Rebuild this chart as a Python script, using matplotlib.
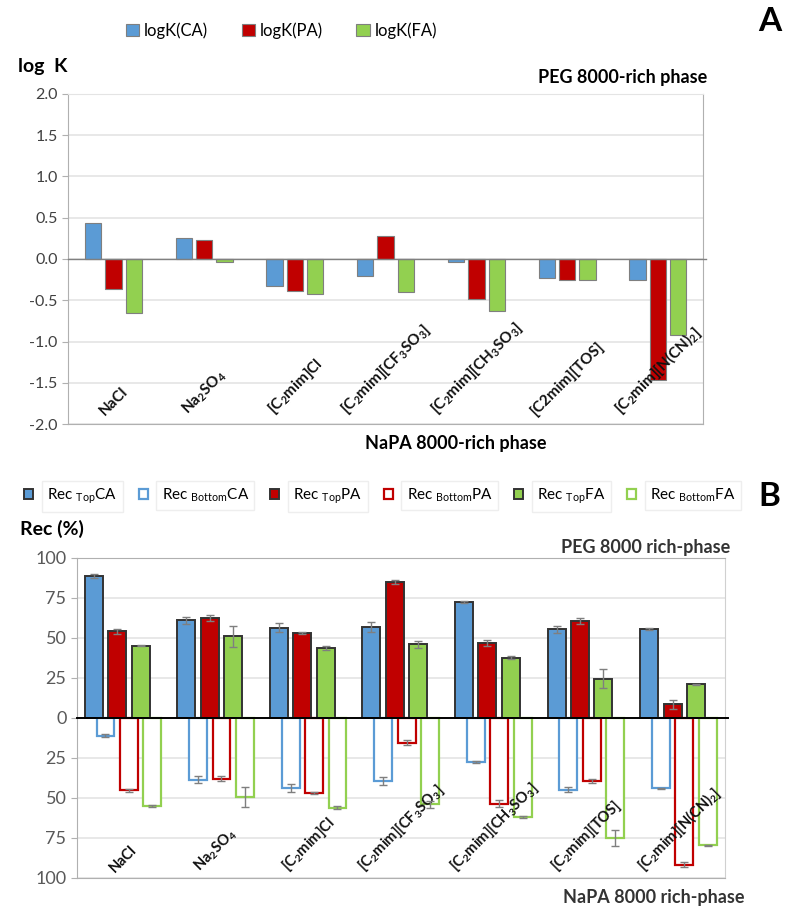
import matplotlib.pyplot as plt
import numpy as np

plt.rcParams['font.family'] = ['Lato', 'DejaVu Sans']
plt.rcParams['mathtext.fontset'] = 'custom'
plt.rcParams['mathtext.rm'] = 'Lato'
plt.rcParams['mathtext.bf'] = 'Lato:bold'

salts = ['NaCl', r'Na$_\mathbf{2}$SO$_\mathbf{4}$', r'[C$_\mathbf{2}$mim]Cl',
         r'[C$_\mathbf{2}$mim][CF$_\mathbf{3}$SO$_\mathbf{3}$]',
         r'[C$_\mathbf{2}$mim][CH$_\mathbf{3}$SO$_\mathbf{3}$]', '[C2mim][TOS]',
         r'[C$_\mathbf{2}$mim][N(CN)$_\mathbf{2}$]']
salts_b = salts[:5] + [r'[C$_\mathbf{2}$mim][TOS]', salts[6]]

# panel A: log K
logk_ca = [0.44, 0.25, -0.33, -0.21, -0.04, -0.23, -0.25]
logk_pa = [-0.36, 0.23, -0.39, 0.28, -0.48, -0.25, -1.47]
logk_fa = [-0.65, -0.04, -0.42, -0.40, -0.63, -0.25, -0.92]

# panel B: recoveries (%)
rec_top_ca = [88.7, 61.0, 56.5, 57.0, 72.5, 55.4, 55.6]
rec_top_pa = [54.2, 62.5, 53.0, 85.0, 47.0, 60.6, 8.5]
rec_top_fa = [45.2, 51.0, 43.7, 46.0, 37.7, 24.6, 21.0]
rec_bot_ca = [11.2, 38.5, 44.0, 39.4, 27.5, 44.8, 44.0]
rec_bot_pa = [45.2, 37.9, 46.8, 15.4, 53.5, 39.4, 91.6]
rec_bot_fa = [55.2, 49.4, 56.2, 54.0, 61.9, 75.0, 79.6]
err_top_ca = [1.5, 2.0, 3.0, 3.0, 0.5, 2.0, 0.5]
err_top_pa = [1.5, 2.0, 0.5, 1.5, 2.0, 2.0, 3.0]
err_top_fa = [0.5, 6.5, 1.0, 2.0, 1.0, 6.0, 0.5]
err_bot_ca = [1.0, 2.0, 2.5, 2.5, 0.5, 1.5, 0.5]
err_bot_pa = [1.0, 1.5, 0.5, 1.5, 2.0, 1.5, 1.5]
err_bot_fa = [0.5, 6.5, 1.0, 2.0, 0.5, 5.0, 0.5]

blue = '#5B9BD5'
red = '#C00000'
green = '#92D050'
grid_c = '#e4e4e4'
spine_c = '#b0b0b0'

fig = plt.figure(figsize=(8, 9.21), dpi=100)
x = np.arange(len(salts))

# ---------- panel A ----------
axA = fig.add_axes([0.085, 0.5396, 0.794, 0.3584])
w = 0.18
for off, vals, c, lab in [(-0.225, logk_ca, blue, 'logK(CA)'),
                          (0.0, logk_pa, red, 'logK(PA)'),
                          (0.225, logk_fa, green, 'logK(FA)')]:
    axA.bar(x + off, vals, w, color=c, edgecolor='#7f7f7f', linewidth=0.8,
            label=lab, zorder=3)
axA.set_xlim(-0.5, 6.5)
axA.set_ylim(-2.0, 2.0)
axA.set_yticks(np.arange(-2.0, 2.01, 0.5))
axA.set_yticklabels(['%.1f' % v for v in np.arange(-2.0, 2.01, 0.5)])
axA.set_xticks([])
axA.yaxis.grid(True, color=grid_c, lw=1.2, zorder=0)
axA.axhline(0, color='#808080', lw=1.0, zorder=4, xmax=1.004, clip_on=False)
for s in axA.spines.values():
    s.set_color(spine_c)
axA.spines['top'].set_color(grid_c)
axA.tick_params(axis='y', labelsize=11.5, colors='#404040', length=4, color=spine_c)
for i, lab in enumerate(salts):
    axA.text(i, -1.93, lab, rotation=45, ha='center', va='bottom',
             fontsize=11, fontweight='bold', color='#111111')
fig.legend(*axA.get_legend_handles_labels(), loc='center', ncol=3,
           bbox_to_anchor=(0.352, 0.967), frameon=False, fontsize=12,
           handlelength=0.8, handleheight=0.8, columnspacing=2.0,
           handletextpad=0.3)
fig.text(0.022, 0.928, 'log  K', fontsize=14, fontweight='bold', va='center')
fig.text(0.884, 0.916, 'PEG 8000-rich phase', fontsize=13,
         fontweight='bold', ha='right', va='center')
fig.text(0.57, 0.519, 'NaPA 8000-rich phase', fontsize=13,
         fontweight='bold', ha='center', va='center')
fig.text(0.962, 0.977, 'A', fontsize=24, fontweight='bold', ha='center', va='center')

# ---------- panel B ----------
axB = fig.add_axes([0.096, 0.0467, 0.81, 0.3475])
wb = 0.194
sp = 0.253
ekw = dict(ecolor='#7f7f7f', elinewidth=1.0, capsize=3, capthick=1.0)
top_series = [(rec_top_ca, err_top_ca, blue, r'Rec $_{\mathrm{Top}}$CA'),
              (rec_top_pa, err_top_pa, red, r'Rec $_{\mathrm{Top}}$PA'),
              (rec_top_fa, err_top_fa, green, r'Rec $_{\mathrm{Top}}$FA')]
bot_series = [(rec_bot_ca, err_bot_ca, blue, r'Rec $_{\mathrm{Bottom}}$CA'),
              (rec_bot_pa, err_bot_pa, red, r'Rec $_{\mathrm{Bottom}}$PA'),
              (rec_bot_fa, err_bot_fa, green, r'Rec $_{\mathrm{Bottom}}$FA')]
handles = []
for k in range(3):
    vals, err, c, lab = top_series[k]
    h1 = axB.bar(x - 0.317 + k * sp, vals, wb, color=c, edgecolor='#333333',
                 linewidth=1.4, yerr=err, error_kw=ekw, label=lab, zorder=3)
    vals, err, c, lab = bot_series[k]
    h2 = axB.bar(x - 0.19 + k * sp, -np.array(vals), wb, color='white',
                 edgecolor=c, linewidth=1.6, yerr=err, error_kw=ekw,
                 label=lab, zorder=3)
    handles += [h1, h2]
axB.set_xlim(-0.5, 6.5)
axB.set_ylim(-100, 100)
ticks = np.arange(-100, 101, 25)
axB.set_yticks(ticks)
axB.set_yticklabels([str(abs(t)) for t in ticks])
axB.set_xticks([])
axB.yaxis.grid(True, color=grid_c, lw=1.2, zorder=0)
axB.axhline(0, color='black', lw=1.4, zorder=5, xmax=1.005, clip_on=False)
for s in axB.spines.values():
    s.set_color(spine_c)
axB.spines['right'].set_color('#d0d0d0')
axB.tick_params(axis='y', labelsize=13, colors='#595959', length=4, color=spine_c)
for i, lab in enumerate(salts_b):
    axB.text(i, -98, lab, rotation=45, ha='center', va='bottom',
             fontsize=10.5, fontweight='bold', color='#111111')
leg = fig.legend(handles, [h.get_label() for h in handles], loc='center', ncol=6,
                 bbox_to_anchor=(0.475, 0.461), frameon=False, fontsize=11,
                 handlelength=0.6, handleheight=0.6, columnspacing=1.4,
                 handletextpad=0.9)
for t in leg.get_texts():
    t.set_bbox(dict(facecolor='white', edgecolor='#eeeeee', pad=4))
fig.text(0.025, 0.426, 'Rec (%)', fontsize=14, fontweight='bold', va='center')
fig.text(0.913, 0.405, 'PEG 8000 rich-phase', fontsize=13,
         fontweight='bold', ha='right', va='center', color='#333333')
fig.text(0.817, 0.025, 'NaPA 8000 rich-phase', fontsize=13,
         fontweight='bold', ha='center', va='center', color='#333333')
fig.text(0.962, 0.461, 'B', fontsize=24, fontweight='bold', ha='center', va='center')

fig.savefig('out.png', dpi=100)
